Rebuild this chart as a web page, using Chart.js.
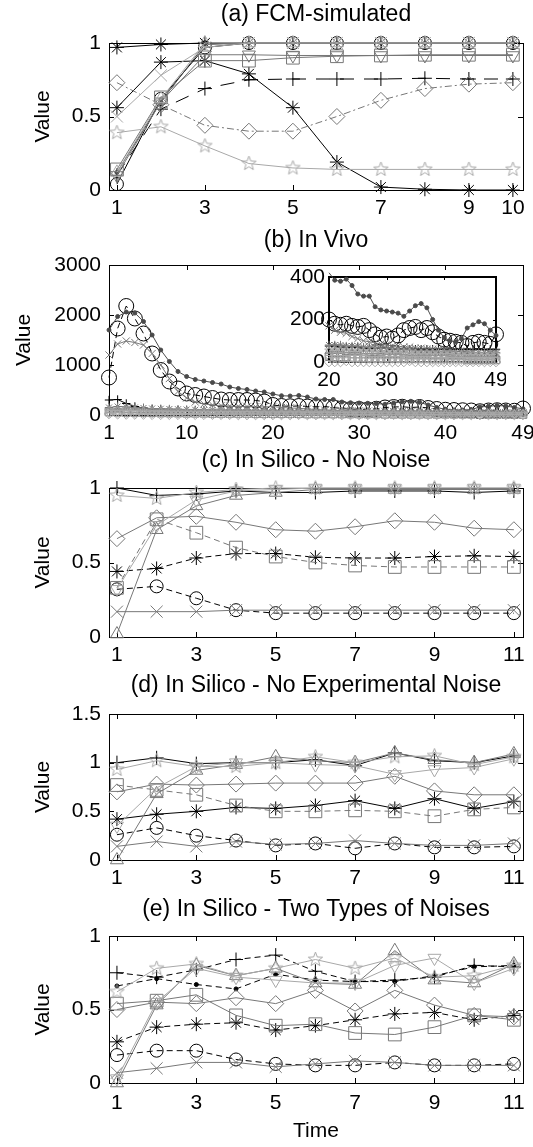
<!DOCTYPE html>
<html><head><meta charset="utf-8">
<script src="https://cdn.jsdelivr.net/npm/chart.js@4.4.1/dist/chart.umd.min.js"></script>
<style>html,body{margin:0;padding:0;background:#fff;}body{position:relative;width:533px;height:1147px;overflow:hidden;}canvas{position:absolute;left:0;}</style>
</head><body>
<script>
// ---------------- DATA ----------------
const X10 = [1,2,3,4,5,6,7,8,9,10];
const X11 = [1,2,3,4,5,6,7,8,9,10,11];
const X49 = [1,2,3,4,5,6,7,8,9,10,11,12,13,14,15,16,17,18,19,20,21,22,23,24,25,26,27,28,29,30,31,32,33,34,35,36,37,38,39,40,41,42,43,44,45,46,47,48,49];

const ticksAX = [1,3,5,7,9,10], ticksAY = [0,0.5,1];
const ticksBX = [1,10,20,30,40,49], ticksBY = [0,1000,2000,3000];
const ticksInX = [20,30,40,49], ticksInY = [0,200,400];
const ticksCX = [1,3,5,7,9,11], ticksCY = [0,0.5,1];
const ticksDY = [0,0.5,1,1.5], ticksEY = [0,0.5,1];

const titles = ['(a) FCM-simulated','(b) In Vivo','(c) In Silico - No Noise','(d) In Silico - No Experimental Noise','(e) In Silico - Two Types of Noises'];

// (a) FCM-simulated
const A_star1 = [0.97,0.99,1,1,1,1,1,1,1,1];
const A_star2 = [0.56,0.87,0.88,0.79,0.56,0.19,0.02,0.005,0,0];
const A_plus  = [0.10,0.55,0.69,0.75,0.755,0.755,0.755,0.76,0.755,0.755];
const A_diam  = [0.73,0.58,0.44,0.40,0.40,0.50,0.61,0.69,0.72,0.73];
const A_pent  = [0.39,0.43,0.30,0.18,0.15,0.14,0.14,0.14,0.14,0.14];
const A_circ  = [0.04,0.62,0.97,1,1,1,1,1,1,1];
const A_sq    = [0.14,0.63,0.88,0.88,0.90,0.91,0.915,0.92,0.92,0.92];
const A_tdown = [0.10,0.60,0.92,0.92,0.915,0.915,0.915,0.915,0.915,0.915];
const A_tup   = [0.12,0.62,1,1,1,1,1,1,1,1];
const A_x     = [0.50,0.78,0.97,1,1,1,1,1,1,1];
const A_dot   = [0.12,0.60,0.99,1,1,1,1,1,1,1];

// (b) In Vivo
const B_circ = [750,1730,2180,1930,1630,1230,900,670,530,430,400,370,340,310,300,300,300,290,270,200,180,175,180,170,165,170,150,130,115,120,110,125,150,160,165,150,160,140,120,105,100,95,90,75,90,95,90,85,130];
const B_dot  = [1700,1970,2060,2040,1870,1600,1300,1070,870,770,710,680,650,620,560,530,510,480,460,420,385,380,390,360,320,310,310,260,245,240,235,230,215,240,265,275,255,200,150,115,100,95,110,160,175,190,180,150,125];
const B_x    = [1200,1420,1480,1450,1400,1230,1000,730,470,340,260,220,200,190,180,175,170,165,160,170,150,140,135,120,110,100,95,90,85,80,75,75,70,70,65,65,60,60,60,55,55,50,50,50,45,45,45,40,40];
const B_plus = [300,310,230,170,140,120,110,100,100,95,90,90,85,85,85,80,80,80,75,75,75,70,70,70,70,65,65,65,65,65,60,60,60,60,60,60,60,60,60,60,60,60,60,60,60,60,60,60,60];
const B_star = [150,170,160,150,140,130,125,120,115,110,105,100,100,95,95,90,90,85,85,80,80,80,75,75,75,70,70,70,65,65,65,60,60,60,55,55,55,55,50,50,50,50,50,45,45,45,45,45,45];
const B_tup  = [100,110,100,95,90,85,80,80,75,75,70,70,65,65,60,60,55,55,55,50,50,50,45,45,45,40,40,40,40,35,35,35,35,30,30,30,30,30,30,30,25,25,25,25,25,25,25,25,25];
const B_sq   = [60,55,50,50,45,45,40,40,40,35,35,35,30,30,30,30,30,25,25,25,25,25,25,20,20,20,20,20,20,20,20,20,15,15,15,15,15,15,15,15,15,15,15,10,10,10,10,10,10];
const B_diam = [20,15,10,10,10,5,5,5,5,5,5,5,5,5,5,0,0,0,0,0,0,0,5,0,0,0,0,0,0,0,0,0,0,5,0,0,0,0,0,0,0,0,0,0,0,0,0,0,0];
const B_tdown= [40,45,40,40,35,35,35,30,30,30,30,30,25,25,25,25,25,25,20,20,20,20,20,20,20,20,15,15,15,15,15,15,15,15,15,15,15,10,10,10,10,10,10,10,10,10,10,10,10];
const B_pent = [90,95,90,85,80,80,75,75,70,70,70,65,65,65,60,60,60,60,55,55,55,55,55,50,50,50,50,50,45,45,45,45,45,45,40,40,40,40,40,40,40,35,35,35,35,35,35,35,35];

// (c) In Silico - No Noise
const C_plus  = [1.0,0.95,0.96,0.98,0.97,0.97,0.98,0.98,0.98,0.97,0.98];
const C_pent  = [0.95,0.93,0.97,0.99,1.0,1.0,1.0,1.0,1.0,1.0,1.0];
const C_tup   = [0.02,0.72,0.88,0.95,0.97,0.99,0.99,0.99,0.99,0.99,0.99];
const C_tdown = [0.32,0.75,0.92,0.98,0.99,1.0,1.0,1.0,1.0,1.0,1.0];
const C_diam  = [0.66,0.80,0.81,0.77,0.72,0.71,0.74,0.78,0.77,0.73,0.72];
const C_sq    = [0.33,0.79,0.70,0.60,0.54,0.50,0.48,0.47,0.47,0.47,0.47];
const C_star  = [0.44,0.46,0.53,0.56,0.56,0.535,0.53,0.53,0.54,0.545,0.54];
const C_circ  = [0.32,0.34,0.26,0.18,0.16,0.16,0.16,0.16,0.16,0.16,0.16];
const C_x     = [0.17,0.17,0.17,0.18,0.18,0.18,0.18,0.18,0.18,0.18,0.18];

// (d) In Silico - No Experimental Noise
const D_plus  = [1.0,1.05,0.99,1.0,1.0,1.03,0.97,1.1,1.02,1.0,1.07];
const D_pent  = [0.93,1.02,0.96,0.96,1.0,1.06,1.0,1.06,1.07,0.98,1.06];
const D_tup   = [0.0,0.68,0.92,0.98,1.06,1.02,1.0,1.1,1.03,1.0,1.09];
const D_tdown = [0.35,0.74,0.96,1.0,1.0,0.98,0.97,0.88,0.93,0.95,1.04];
const D_diam  = [0.70,0.78,0.77,0.78,0.79,0.79,0.79,0.86,0.71,0.67,0.67];
const D_sq    = [0.77,0.72,0.67,0.56,0.50,0.50,0.51,0.50,0.45,0.52,0.54];
const D_star  = [0.42,0.47,0.50,0.54,0.53,0.56,0.61,0.53,0.63,0.53,0.60];
const D_circ  = [0.26,0.33,0.25,0.20,0.15,0.17,0.12,0.17,0.13,0.13,0.14];
const D_x     = [0.14,0.19,0.14,0.19,0.16,0.17,0.20,0.17,0.15,0.15,0.17];

// (e) In Silico - Two Types of Noises
const E_plus  = [0.75,0.72,0.77,0.84,0.87,0.76,0.69,0.70,0.72,0.80,0.79];
const E_dot   = [0.66,0.71,0.67,0.64,0.74,0.70,0.69,0.69,0.73,0.79,0.80];
const E_pent  = [0.62,0.78,0.81,0.73,0.78,0.84,0.78,0.85,0.72,0.73,0.80];
const E_tup   = [0.0,0.53,0.80,0.73,0.78,0.68,0.67,0.90,0.70,0.68,0.81];
const E_tdown = [0.03,0.55,0.78,0.72,0.70,0.68,0.68,0.80,0.85,0.68,0.78];
const E_diam  = [0.50,0.55,0.54,0.58,0.54,0.63,0.49,0.63,0.53,0.46,0.45];
const E_sq    = [0.54,0.56,0.60,0.46,0.39,0.40,0.34,0.33,0.38,0.46,0.43];
const E_star  = [0.28,0.38,0.40,0.41,0.36,0.39,0.43,0.47,0.48,0.43,0.46];
const E_circ  = [0.19,0.22,0.22,0.16,0.13,0.12,0.12,0.14,0.12,0.12,0.13];
const E_x     = [0.07,0.10,0.14,0.14,0.11,0.13,0.15,0.14,0.12,0.12,0.12];

// ---------------- STYLE ----------------
const FONT = "'Liberation Sans', Arial, sans-serif";
const TITLE_SIZE = 23, TICK_SIZE = 21, AXT_SIZE = 21;
const BLACK = '#000', DARK = '#4a4a4a', GRAY = '#777', LIGHT = '#a8a8a8';
const SOLID = [], DASH = [6,4], DASHDOT = [7,3,2,3];
const R = {circle:6.5, rect:9, rectRot:8, triangle:7.5, tdown:7.5, star:7, cross:7, crossRot:8.5, pent:7.5, dot:2};

function pentagram(color, r) {
  const c = document.createElement('canvas');
  const s = Math.ceil(r * 2 + 4);
  c.width = s; c.height = s;
  const g = c.getContext('2d');
  g.strokeStyle = color; g.lineWidth = 1;
  g.beginPath();
  for (let i = 0; i < 10; i++) {
    const a = -Math.PI / 2 + i * Math.PI / 5;
    const rr = (i % 2) ? r * 0.42 : r;
    g.lineTo(s / 2 + rr * Math.cos(a), s / 2 + rr * Math.sin(a));
  }
  g.closePath(); g.stroke();
  return c;
}

function series(x, y, marker, color, dash, scale) {
  const k = scale || 1;
  let style = marker, rot = 0, bg = 'rgba(0,0,0,0)';
  let rad = R[marker] * k;
  if (marker === 'tdown') { style = 'triangle'; rot = 180; }
  if (marker === 'pent') { style = pentagram(color, rad); }
  if (marker === 'dot') { style = 'circle'; bg = color; rad = R.dot; }
  return {
    data: x.map((v, i) => ({x: v, y: y[i]})),
    borderColor: color, borderWidth: 1, borderDash: dash,
    pointStyle: style, pointRotation: rot, pointRadius: rad, pointHoverRadius: rad,
    pointBorderColor: color, pointBackgroundColor: bg, pointBorderWidth: 1,
    fill: false, tension: 0, clip: false
  };
}

const framePlugin = {
  id: 'frame',
  beforeDatasetsDraw(chart, args, o) {
    const {ctx, chartArea: a, scales: {x, y}} = chart;
    const L = o.tick || 5;
    ctx.save();
    ctx.strokeStyle = '#000';
    ctx.lineWidth = o.lw || 1;
    const off = (o.lw || 1) % 2 ? 0.5 : 0;
    ctx.strokeRect(Math.round(a.left) + off, Math.round(a.top) + off, Math.round(a.right - a.left), Math.round(a.bottom - a.top));
    ctx.lineWidth = 1;
    ctx.beginPath();
    x.ticks.forEach(t => {
      const px = Math.round(x.getPixelForValue(t.value)) + 0.5;
      ctx.moveTo(px, a.bottom); ctx.lineTo(px, a.bottom - L);
      ctx.moveTo(px, a.top); ctx.lineTo(px, a.top + L);
    });
    y.ticks.forEach(t => {
      const py = Math.round(y.getPixelForValue(t.value)) + 0.5;
      ctx.moveTo(a.left, py); ctx.lineTo(a.left + L, py);
      ctx.moveTo(a.right, py); ctx.lineTo(a.right - L, py);
    });
    ctx.stroke();
    ctx.restore();
  }
};

function panel(o) {
  const c = document.createElement('canvas');
  c.width = o.w; c.height = o.h;
  c.style.left = o.left + 'px'; c.style.top = o.top + 'px';
  c.style.width = o.w + 'px'; c.style.height = o.h + 'px';
  document.body.appendChild(c);
  const lh = TITLE_SIZE * 1.2;
  let titleOpt = {display: false};
  if (o.title) {
    const tpt = (o.titleY - o.top) - lh / 2;
    const tpb = (o.T - o.top) - tpt - lh;
    titleOpt = {display: true, text: o.title, fullSize: false, color: '#000',
      font: {family: FONT, size: TITLE_SIZE, weight: 'normal'}, padding: {top: tpt, bottom: tpb}};
  }
  return new Chart(c.getContext('2d'), {
    type: 'line',
    data: {datasets: o.datasets},
    options: {
      responsive: false, animation: false, devicePixelRatio: 1, events: [],
      layout: {padding: {left: 0, right: o.padR, top: o.padT || 0, bottom: 0}},
      plugins: {
        legend: {display: false}, tooltip: {enabled: false},
        title: titleOpt,
        frame: {lw: o.lw || 1, tick: o.tick || 5}
      },
      scales: {
        x: {
          type: 'linear', min: o.xmin, max: o.xmax,
          grid: {display: false, drawTicks: false}, border: {display: false},
          ticks: {autoSkip: false, maxRotation: 0, padding: o.xpad, color: '#000',
            font: {family: FONT, size: o.tickSize || TICK_SIZE}, callback: v => String(v)},
          afterBuildTicks: s => { s.ticks = o.xticks.map(v => ({value: v})); },
          afterFit: s => { s.height = o.xh; s.paddingLeft = 0; s.paddingRight = 0; },
          title: o.xtitle ? {display: true, text: o.xtitle, color: '#000',
            font: {family: FONT, size: 21}, padding: {top: 0, bottom: o.xtpb}} : {display: false}
        },
        y: {
          type: 'linear', min: o.ymin, max: o.ymax,
          grid: {display: false, drawTicks: false}, border: {display: false},
          ticks: {autoSkip: false, padding: o.ypad, color: '#000',
            font: {family: FONT, size: o.tickSize || TICK_SIZE}, callback: v => String(v)},
          afterBuildTicks: s => { s.ticks = o.yticks.map(v => ({value: v})); },
          afterFit: s => { s.width = o.yw; s.paddingTop = 0; s.paddingBottom = 0; },
          title: o.ytitle ? {display: true, text: o.ytitle, color: '#000',
            font: {family: FONT, size: AXT_SIZE}, padding: {top: o.ytpt, bottom: 0}} : {display: false}
        }
      }
    },
    plugins: [framePlugin]
  });
}

function mainPanel(title, T, B, titleY, datasets, xmin, xmax, xticks, ymin, ymax, yticks, ytpt, extra) {
  const top = titleY - 15;
  const o = Object.assign({
    left: 0, top: top, w: 533, h: B + 40 - top, T: T, titleY: titleY, title: title,
    padR: 10, xh: 40, yw: 109, xpad: 6, ypad: 8,
    xmin, xmax, xticks, ymin, ymax, yticks, ytitle: 'Value', ytpt: ytpt, datasets
  }, extra || {});
  return panel(o);
}

// ---------- (a) ----------
mainPanel(titles[0], 43, 190, 15, [
  series(X10, A_pent, 'pent', LIGHT, SOLID),
  series(X10, A_x, 'crossRot', LIGHT, SOLID),
  series(X10, A_tup, 'triangle', LIGHT, SOLID),
  series(X10, A_tdown, 'tdown', GRAY, SOLID),
  series(X10, A_sq, 'rect', GRAY, SOLID),
  series(X10, A_diam, 'rectRot', GRAY, DASHDOT),
  series(X10, A_dot, 'dot', DARK, SOLID),
  series(X10, A_circ, 'circle', BLACK, SOLID),
  series(X10, A_plus, 'cross', BLACK, [14,10]),
  series(X10, A_star2, 'star', BLACK, SOLID),
  series(X10, A_star1, 'star', BLACK, SOLID)
], 0.82, 10.23, ticksAX, 0, 1, ticksAY, 31);

// ---------- (b) ----------
function bSets(from, to) {
  const sl = a => a.slice(from, to);
  const xs = X49.slice(from, to);
  const k = 0.6;
  return [
    series(xs, sl(B_diam), 'rectRot', LIGHT, SOLID, k),
    series(xs, sl(B_tdown), 'tdown', LIGHT, SOLID, k),
    series(xs, sl(B_pent), 'pent', LIGHT, SOLID, k),
    series(xs, sl(B_sq), 'rect', GRAY, SOLID, k),
    series(xs, sl(B_tup), 'triangle', GRAY, SOLID, k),
    series(xs, sl(B_star), 'star', GRAY, SOLID, k),
    series(xs, sl(B_plus), 'cross', BLACK, SOLID, k),
    series(xs, sl(B_x), 'crossRot', GRAY, SOLID, k),
    series(xs, sl(B_dot), 'dot', DARK, SOLID),
    series(xs, sl(B_circ), 'circle', BLACK, DASH, 1.15)
  ];
}
mainPanel(titles[1], 265, 415, 241, bSets(0, 49), 1, 49, ticksBX, 0, 3000, ticksBY, 12);

// inset of (b)
panel({
  left: 250, top: 262, w: 256, h: 140, T: 277, padR: 10, padT: 15,
  xh: 40, yw: 79, xpad: 6, ypad: 4, lw: 2, tick: 3,
  xmin: 20, xmax: 49, xticks: ticksInX, ymin: 0, ymax: 400, yticks: ticksInY,
  datasets: bSets(19, 49)
});

// ---------- (c) ----------
mainPanel(titles[2], 488, 637, 461, [
  series(X11, C_pent, 'pent', LIGHT, SOLID),
  series(X11, C_tdown, 'tdown', LIGHT, SOLID),
  series(X11, C_tup, 'triangle', GRAY, SOLID),
  series(X11, C_diam, 'rectRot', GRAY, SOLID),
  series(X11, C_sq, 'rect', GRAY, DASH),
  series(X11, C_x, 'crossRot', GRAY, SOLID),
  series(X11, C_star, 'star', BLACK, DASH),
  series(X11, C_circ, 'circle', BLACK, DASH),
  series(X11, C_plus, 'cross', BLACK, SOLID)
], 0.8, 11.23, ticksCX, 0, 1, ticksCY, 31);

// ---------- (d) ----------
mainPanel(titles[3], 714, 860, 686, [
  series(X11, D_pent, 'pent', LIGHT, SOLID),
  series(X11, D_tdown, 'tdown', LIGHT, SOLID),
  series(X11, D_tup, 'triangle', GRAY, SOLID),
  series(X11, D_diam, 'rectRot', GRAY, SOLID),
  series(X11, D_sq, 'rect', GRAY, DASH),
  series(X11, D_x, 'crossRot', GRAY, SOLID),
  series(X11, D_star, 'star', BLACK, SOLID),
  series(X11, D_circ, 'circle', BLACK, DASH),
  series(X11, D_plus, 'cross', BLACK, SOLID)
], 0.8, 11.23, ticksCX, 0, 1.5, ticksDY, 31);

// ---------- (e) ----------
mainPanel(titles[4], 936, 1083, 910, [
  series(X11, E_pent, 'pent', LIGHT, SOLID),
  series(X11, E_tdown, 'tdown', LIGHT, SOLID),
  series(X11, E_tup, 'triangle', GRAY, SOLID),
  series(X11, E_diam, 'rectRot', GRAY, SOLID),
  series(X11, E_sq, 'rect', GRAY, SOLID),
  series(X11, E_x, 'crossRot', GRAY, SOLID),
  series(X11, E_star, 'star', BLACK, DASH),
  series(X11, E_circ, 'circle', BLACK, DASH),
  series(X11, E_dot, 'dot', BLACK, DASH),
  series(X11, E_plus, 'cross', BLACK, DASH)
], 0.8, 11.23, ticksCX, 0, 1, ticksEY, 31, {h: 1147 - 895, xh: 64, xpad: 8, xtitle: 'Time', xtpb: 3});
</script>
</body></html>
